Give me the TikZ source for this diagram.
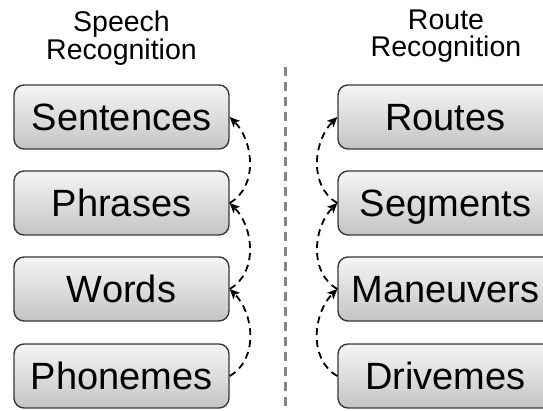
\documentclass[tikz,border=0pt]{standalone}
\usepackage{fontspec}
\setmainfont{Liberation Sans}
\usetikzlibrary{arrows.meta}

\begin{document}
\begin{tikzpicture}[x=1pt,y=1pt,
  level/.style={draw=black!78, line width=1.4pt, rounded corners=10pt,
    top color=black!4, bottom color=black!23,
    minimum width=215pt, minimum height=64pt, inner sep=0pt,
    font=\fontsize{38}{40}\selectfont, text height=27pt, text depth=0pt},
  title/.style={font=\fontsize{28.5}{30}\selectfont, anchor=base, inner sep=0pt},
  link/.style={line width=1.8pt, dash pattern=on 7pt off 5pt,
    -{Stealth[length=10pt,width=9pt,inset=2.5pt]}},
  divider/.style={draw=black!48, line width=3pt, dash pattern=on 9pt off 6pt}
]
\useasboundingbox (0,0) rectangle (543,411);

% column headings
\node[title] (sh1) at (121.5,379) {Speech};
\node[title] (sh2) at (121.5,351) {Recognition};
\node[title] (rh1) at (446,381) {Route};
\node[title] (rh2) at (446,354) {Recognition};

% separator between the two hierarchies
\coordinate (divtop) at (285,344);
\coordinate (divbot) at (285,0);
\draw[divider] (divtop) -- (divbot);

% speech hierarchy
\node[level] (sent)  at (121.5,294) {Sentences};
\node[level] (phr)   at (121.5,208) {Phrases};
\node[level] (word)  at (121.5,122) {Words};
\node[level] (phon)  at (121.5,35)  {Phonemes};

% route hierarchy
\node[level] (rout)  at (445.5,294) {Routes};
\node[level] (seg)   at (445.5,208) {Segments};
\node[level] (man)   at (445.5,122) {Maneuvers};
\node[level] (drive) at (445.5,35)  {Drivemes};

% bottom-up composition links
\draw[link] (phon.east) to[out=30,in=-45] (word.east);
\draw[link] (word.east) to[out=30,in=-45] (phr.east);
\draw[link] (phr.east)  to[out=30,in=-45] (sent.east);

\draw[link] (drive.west) to[out=150,in=-135] (man.west);
\draw[link] (man.west)   to[out=150,in=-135] (seg.west);
\draw[link] (seg.west)   to[out=150,in=-135] (rout.west);
\end{tikzpicture}
\end{document}
